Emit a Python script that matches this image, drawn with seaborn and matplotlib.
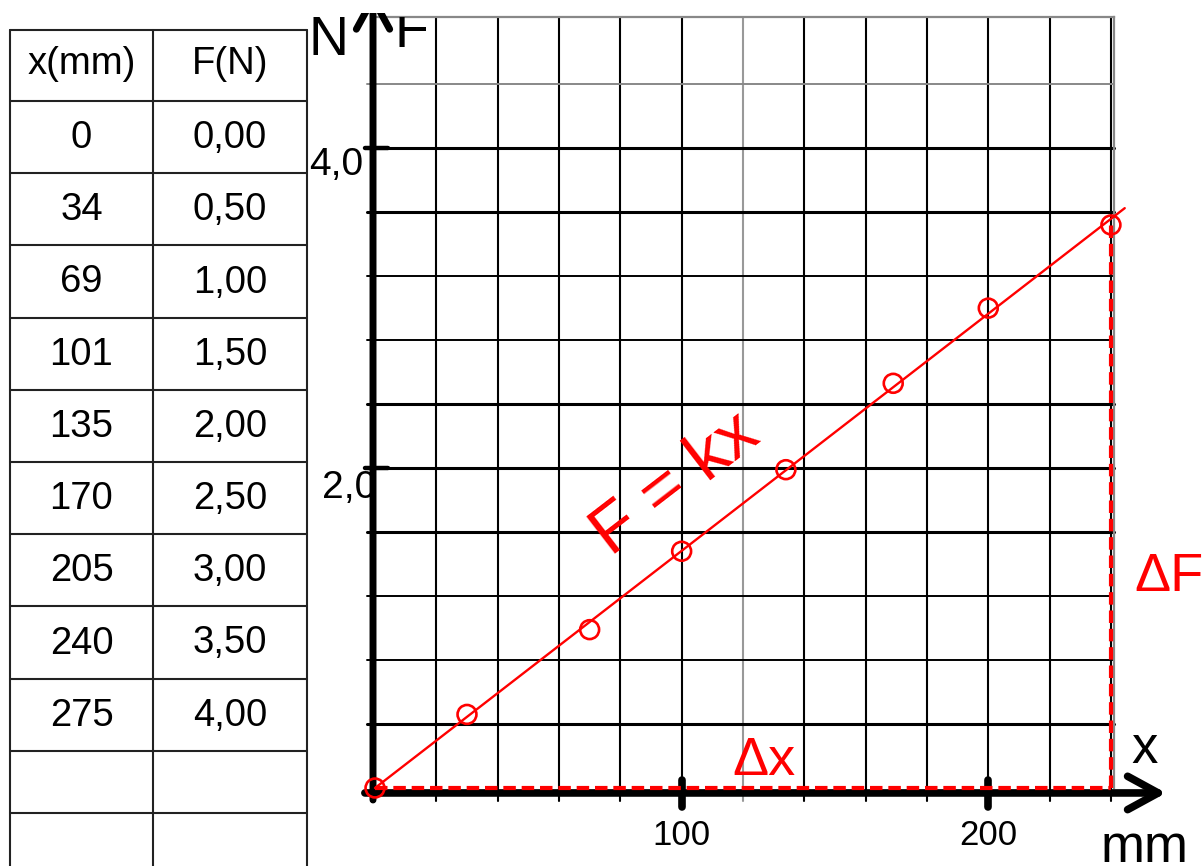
import matplotlib
matplotlib.use("Agg")
import matplotlib.pyplot as plt
from matplotlib.patches import Rectangle
import seaborn as sns
import pandas as pd
import numpy as np

# table values (as printed in the table)
table_x_mm = ["0", "34", "69", "101", "135", "170", "205", "240", "275"]
table_F_N = ["0,00", "0,50", "1,00", "1,50", "2,00", "2,50", "3,00", "3,50", "4,00"]

# measured points as drawn on the graph
x_plot = [0, 30, 70, 100, 134, 169, 200, 240]
F_plot = [0.0, 0.46, 0.99, 1.48, 1.99, 2.53, 3.00, 3.52]

# fitted line F = kx (end points)
fit_x = [0, 244.5]
fit_F = [0, 3.625]

x_label_ticks = [100, 200]
y_label_ticks = [2.0, 4.0]

sns.set_style("white")
plt.rcParams['font.family'] = ['Liberation Sans', 'DejaVu Sans']
plt.rcParams['text.color'] = 'black'

W, H = 1203, 866
fig = plt.figure(figsize=(W / 100, H / 100), dpi=100)

# main graph
ax = fig.add_axes([375 / W, 78 / H, 739 / W, 771 / H])
ax.set_xlim(0, 241)
ax.set_ylim(0, 4.82)
ax.set_xticks([])
ax.set_yticks([])
for s in ["left", "bottom"]:
    ax.spines[s].set_visible(False)
for s in ["top", "right"]:
    ax.spines[s].set_color("#888888")
    ax.spines[s].set_linewidth(1.6)

# grid
for gx in np.arange(20, 241, 20):
    col = "#999999" if gx == 120 else "black"
    ax.plot([gx, gx], [-0.08, 4.82], color=col, lw=1.5, clip_on=False, zorder=1)
thick_rows = [0.4, 1.6, 2.0, 2.4, 3.6, 4.0]
for gy in np.arange(0.4, 4.5, 0.4):
    gy = round(gy, 1)
    col = "#888888" if gy == 4.4 else "black"
    lw = 2.2 if gy in thick_rows else 1.4
    ax.plot([-2.6, 241], [gy, gy], color=col, lw=lw, clip_on=False, zorder=1)

# axes with arrows
ax.annotate("", xy=(258, -0.031), xytext=(-3.3, -0.031),
            arrowprops=dict(arrowstyle="->,head_length=1.1,head_width=0.6", lw=5.5,
                            color="black", shrinkA=0, shrinkB=0, mutation_scale=20),
            annotation_clip=False, zorder=4)
yarr = ax.annotate("", xy=(-0.65, 4.98), xytext=(-0.65, -0.075),
                   arrowprops=dict(arrowstyle="->,head_length=1.1,head_width=0.6", lw=5,
                                   color="black", shrinkA=0, shrinkB=0, mutation_scale=20),
                   annotation_clip=False, zorder=4)
top_clip = Rectangle((0, 0), 1, (H - 13) / H, transform=fig.transFigure)
yarr.arrow_patch.set_clip_path(top_clip)

# bold ticks
for t in x_label_ticks:
    ax.plot([t, t], [0.05, -0.12], color="black", lw=5.5, solid_capstyle="round",
            clip_on=False, zorder=4)
for t in y_label_ticks:
    ax.plot([-3.3, 4.2], [t, t], color="black", lw=3.2, clip_on=False, zorder=4)

# tick labels
ax.text(100, -0.356, "100", fontsize=25, ha="center", va="baseline")
ax.text(200, -0.356, "200", fontsize=25, ha="center", va="baseline")
ax.text(-3.9, 3.83, "4,0", fontsize=28, ha="right", va="baseline", zorder=2)
ax.text(0.3, 1.8125, "2,0", fontsize=28, ha="right", va="baseline", zorder=2)

# axis names
ax.text(-15.3, 4.58, "N", fontsize=40, ha="center", va="baseline", clip_on=False)
ax.text(6.5, 4.63, "F", fontsize=40, ha="left", va="baseline", clip_on=True)
ax.text(251, 0.156, "x", fontsize=38, ha="center", va="baseline", clip_on=False)
ax.text(251, -0.4625, "mm", fontsize=38, ha="center", va="baseline", clip_on=False)

# red dashed deltas
ax.plot([0, x_plot[-1]], [0, 0], color="red", lw=3, ls=(0, (3, 1.4)), clip_on=False, zorder=5)
ax.plot([x_plot[-1], x_plot[-1]], [0, F_plot[-1]], color="red", lw=3, ls=(0, (3, 1.4)),
        clip_on=False, zorder=5)
ax.text(247.8, 1.23, "\u0394F", fontsize=39, color="red", ha="left", va="baseline", clip_on=False)
ax.text(116.7, 0.081, "\u0394x", fontsize=39, color="red", ha="left", va="baseline")

# fit line and points
fit_df = pd.DataFrame({"x": fit_x, "F": fit_F})
pts_df = pd.DataFrame({"x": x_plot, "F": F_plot})
sns.lineplot(data=fit_df, x="x", y="F", color="red", lw=1.7, ax=ax, zorder=6, clip_on=False)
sns.scatterplot(data=pts_df, x="x", y="F", s=185, marker="o", facecolor="none",
                edgecolor="red", linewidth=1.9, ax=ax, zorder=7, clip_on=False)
ax.set_xlabel("")
ax.set_ylabel("")
ax.text(98, 1.9, "F = kx", fontsize=50, color="red", rotation=37.6,
        rotation_mode="anchor", ha="center", va="center")

# table on the left (pixel coordinates)
tab = fig.add_axes([0, 0, 1, 1])
tab.set_xlim(0, W)
tab.set_ylim(H, 0)
tab.axis("off")
col_edges = [10, 153, 307]
row_edges = [30, 101] + [101 + 72.2 * (i + 1) for i in range(len(table_x_mm))]
row_edges += [row_edges[-1] + 62, row_edges[-1] + 124]
for cx in col_edges:
    tab.plot([cx, cx], [30, H], color="#222222", lw=1.5)
for ry in row_edges:
    tab.plot([col_edges[0], col_edges[-1]], [ry, ry], color="#222222", lw=1.5)
c1 = (col_edges[0] + col_edges[1]) / 2
c2 = (col_edges[1] + col_edges[2]) / 2
tab.text(c1, 74, "x(mm)", fontsize=27.5, ha="center", va="baseline")
tab.text(c2, 74, "F(N)", fontsize=27.5, ha="center", va="baseline")
for i, (a, b) in enumerate(zip(table_x_mm, table_F_N)):
    yc = (row_edges[i + 1] + row_edges[i + 2]) / 2 + 11
    tab.text(c1, yc, a, fontsize=27.5, ha="center", va="baseline")
    tab.text(c2, yc, b, fontsize=27.5, ha="center", va="baseline")

fig.savefig("out.png", dpi=100)
